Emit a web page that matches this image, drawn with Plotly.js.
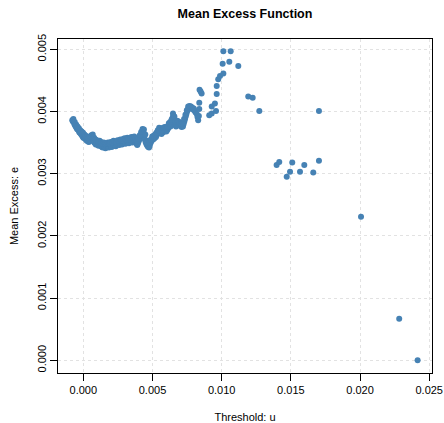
<!DOCTYPE html>
<html>
<head>
<meta charset="utf-8">
<script src="https://cdn.plot.ly/plotly-3.0.1.min.js"></script>
<style>html,body{margin:0;padding:0;background:#fff;}#chart{width:444px;height:423px;}</style>
</head>
<body>
<div id="chart"></div>
<script>
// Threshold u values
var threshold = [
-0.00080,-0.00075,-0.00070,-0.00065,-0.00060,-0.00055,-0.00050,-0.00045,-0.00040,-0.00035,
-0.00030,-0.00025,-0.00020,-0.00015,-0.00010,-0.00005,0.00000,0.00005,0.00010,0.00015,
0.00020,0.00025,0.00030,0.00035,0.00040,0.00045,0.00050,0.00055,0.00060,0.00065,
0.00070,0.00075,0.00080,0.00085,0.00090,0.00095,0.00100,0.00105,0.00110,0.00115,
0.00120,0.00125,0.00130,0.00135,0.00140,0.00145,0.00150,0.00155,0.00160,0.00165,
0.00170,0.00175,0.00180,0.00185,0.00190,0.00195,0.00200,0.00205,0.00210,0.00215,
0.00220,0.00225,0.00230,0.00235,0.00240,0.00245,0.00250,0.00255,0.00260,0.00265,
0.00270,0.00275,0.00280,0.00285,0.00290,0.00295,0.00300,0.00305,0.00310,0.00315,
0.00320,0.00325,0.00330,0.00335,0.00340,0.00345,0.00350,0.00355,0.00360,0.00365,
0.00370,0.00375,0.00380,0.00385,0.00390,0.00395,0.00400,0.00405,0.00410,0.00415,
0.00420,0.00425,0.00430,0.00435,0.00440,0.00445,0.00450,0.00455,0.00460,0.00465,
0.00470,0.00475,0.00480,0.00485,0.00490,0.00495,0.00500,0.00505,0.00510,0.00515,
0.00520,0.00525,0.00530,0.00535,0.00540,0.00545,0.00550,0.00555,0.00560,0.00565,
0.00570,0.00575,0.00580,0.00585,0.00590,0.00595,0.00600,0.00605,0.00610,0.00615,
0.00620,0.00625,0.00630,0.00635,0.00640,0.00645,0.00650,0.00655,0.00660,0.00665,
0.00670,0.00675,0.00680,0.00690,0.00700,0.00710,0.00720,0.00725,0.00730,0.00735,
0.00740,0.00745,0.00750,0.00755,0.00760,0.00770,0.00780,0.00790,0.00800,0.00810,
0.00820,0.00825,0.00830,0.00835,0.00838,0.00838,0.00840,0.00848,0.00855,
0.00910,0.00928,0.00928,0.00951,0.00959,0.00964,0.00964,0.00975,0.00988,0.01012,
0.01007,0.01012,0.01065,0.01055,0.01120,0.01192,0.01224,0.01272,
0.01397,0.01416,0.01470,0.01494,0.01510,0.01566,0.01597,0.01662,0.01703,0.01703,
0.02007,0.02283,0.02416,
// upper edge of the dense band
-0.00072,-0.00062,-0.00052,-0.00042,-0.00032,-0.00022,-0.00012,-0.00002,0.00008,0.00018,
0.00028,0.00038,0.00048,0.00058,0.00068,0.00078,0.00088,0.00098,0.00108,0.00118,
0.00128,0.00138,0.00148,0.00158,0.00168,0.00178,0.00188,0.00198,0.00208,0.00218,
0.00228,0.00238,0.00248,0.00258,0.00268,0.00278,0.00288,0.00298,0.00308,0.00318,
0.00328,0.00338,0.00348,0.00358,0.00368,0.00378,0.00388,0.00398,0.00408,0.00418,
0.00428,0.00438,0.00448,0.00458,0.00468,0.00478,0.00488,0.00498,0.00508,0.00518,
0.00528,0.00538,0.00548,0.00558,0.00568,0.00578,0.00588,0.00598,0.00608,0.00618,
0.00628,0.00638,0.00648,0.00658,0.00668,0.00678,0.00688,0.00698,0.00708,0.00718,
0.00728,0.00738,0.00748,0.00758,0.00768,0.00778,0.00788,0.00798
];
// Mean excess e values
var meanExcess = [
0.00386,0.00384,0.00383,0.00380,0.00378,0.00376,0.00374,0.00372,0.00371,0.00370,
0.00367,0.00366,0.00365,0.00363,0.00362,0.00360,0.00358,0.00361,0.00357,0.00356,
0.00355,0.00353,0.00355,0.00352,0.00351,0.00353,0.00354,0.00356,0.00357,0.00358,
0.00355,0.00352,0.00350,0.00349,0.00347,0.00350,0.00348,0.00346,0.00345,0.00347,
0.00348,0.00346,0.00344,0.00343,0.00342,0.00344,0.00345,0.00343,0.00341,0.00342,
0.00344,0.00345,0.00343,0.00342,0.00344,0.00346,0.00345,0.00343,0.00344,0.00346,
0.00348,0.00347,0.00345,0.00344,0.00346,0.00348,0.00349,0.00347,0.00346,0.00348,
0.00350,0.00349,0.00347,0.00349,0.00351,0.00352,0.00350,0.00348,0.00350,0.00352,
0.00353,0.00351,0.00349,0.00351,0.00353,0.00354,0.00352,0.00350,0.00353,0.00355,
0.00354,0.00352,0.00350,0.00348,0.00346,0.00349,0.00352,0.00355,0.00358,0.00362,
0.00365,0.00368,0.00369,0.00366,0.00360,0.00355,0.00351,0.00348,0.00346,0.00344,
0.00343,0.00342,0.00345,0.00349,0.00352,0.00354,0.00356,0.00355,0.00358,0.00357,
0.00360,0.00359,0.00362,0.00365,0.00367,0.00369,0.00370,0.00368,0.00366,0.00364,
0.00366,0.00368,0.00367,0.00369,0.00371,0.00369,0.00368,0.00370,0.00372,0.00374,
0.00376,0.00378,0.00376,0.00380,0.00385,0.00390,0.00394,0.00388,0.00382,0.00378,
0.00376,0.00378,0.00380,0.00379,0.00377,0.00375,0.00376,0.00380,0.00384,0.00388,
0.00392,0.00396,0.00400,0.00403,0.00405,0.00406,0.00405,0.00404,0.00402,0.00399,
0.00396,0.00391,0.00386,0.00393,0.00404,0.00414,0.00435,0.00432,0.00429,
0.00394,0.00397,0.00408,0.00413,0.00401,0.00428,0.00441,0.00452,0.00457,0.00461,
0.00477,0.00497,0.00497,0.00480,0.00473,0.00424,0.00422,0.00401,
0.00314,0.00319,0.00295,0.00303,0.00318,0.00303,0.00314,0.00302,0.00321,0.00401,
0.00231,0.000669,0.00000,
// upper edge of the dense band
0.00388,0.00383,0.00379,0.00376,0.00373,0.00370,0.00368,0.00366,0.00363,0.00361,
0.00359,0.00358,0.00360,0.00362,0.00363,0.00358,0.00355,0.00354,0.00352,0.00353,
0.00351,0.00349,0.00350,0.00348,0.00349,0.00350,0.00349,0.00351,0.00350,0.00353,
0.00352,0.00351,0.00354,0.00353,0.00355,0.00354,0.00356,0.00357,0.00355,0.00358,
0.00356,0.00358,0.00359,0.00358,0.00360,0.00357,0.00354,0.00356,0.00362,0.00367,
0.00372,0.00371,0.00363,0.00353,0.00349,0.00350,0.00355,0.00360,0.00361,0.00363,
0.00366,0.00370,0.00374,0.00373,0.00370,0.00374,0.00375,0.00374,0.00376,0.00381,
0.00383,0.00387,0.00397,0.00392,0.00384,0.00385,0.00384,0.00382,0.00380,0.00382,
0.00388,0.00395,0.00402,0.00408,0.00409,0.00408,0.00406,0.00405
];
var xTicks = [0, 0.005, 0.010, 0.015, 0.020, 0.025];
var xTickText = ["0.000","0.005","0.010","0.015","0.020","0.025"];
var yTicks = [0, 0.001, 0.002, 0.003, 0.004, 0.005];
var yTickText = ["0.000","0.001","0.002","0.003","0.004","0.005"];

var font = "Liberation Sans, Arial, sans-serif";
var trace = {
  x: threshold, y: meanExcess, type: "scatter", mode: "markers",
  marker: {color: "#4682B4", size: 6, line: {width: 0}},
  hoverinfo: "skip"
};
var axisCommon = {
  showline: true, linecolor: "#000", linewidth: 1, mirror: true,
  ticks: "outside", ticklen: 7, tickcolor: "#000", tickwidth: 1,
  showgrid: true, gridcolor: "#e2e2e2", griddash: "dot", gridwidth: 1,
  zeroline: false, tickfont: {family: font, size: 11, color: "#000"},
  tickmode: "array", automargin: false
};
var layout = {
  width: 444, height: 423,
  margin: {l: 58, r: 12, t: 39, b: 50},
  paper_bgcolor: "#fff", plot_bgcolor: "#fff",
  showlegend: false,
  font: {family: font, size: 11, color: "#000"},
  title: {text: "<b>Mean Excess Function</b>", font: {family: font, size: 12.5, color: "#000"},
          x: 0.5, xref: "paper", y: 1 - 14/423, yanchor: "middle"},
  xaxis: Object.assign({}, axisCommon, {
    range: [-0.00183, 0.0252], tickvals: xTicks, ticktext: xTickText,
    title: {text: "Threshold: u", font: {family: font, size: 11}, standoff: 18}
  }),
  yaxis: Object.assign({}, axisCommon, {
    range: [-0.000204, 0.005166], tickvals: yTicks, ticktext: yTickText, tickangle: -90,
    title: {text: "Mean Excess: e", font: {family: font, size: 11}, standoff: 14}
  })
};
Plotly.newPlot("chart", [trace], layout, {displayModeBar: false, staticPlot: true});
</script>
</body>
</html>
